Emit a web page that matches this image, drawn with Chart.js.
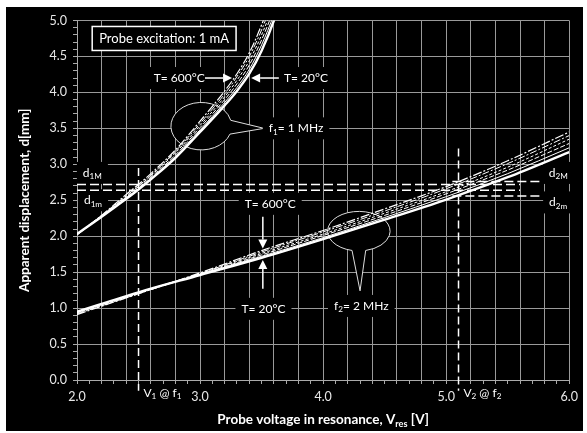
<!DOCTYPE html>
<html>
<head>
<meta charset="utf-8">
<script src="https://cdn.jsdelivr.net/npm/chart.js@4.4.1/dist/chart.umd.min.js"></script>
<style>
  html, body { margin: 0; padding: 0; background: #fff; }
  #frame { position: absolute; left: 6px; top: 7px; width: 577px; height: 424px; background: #000; }
  canvas { display: block; }
</style>
</head>
<body>
<div id="frame"><canvas id="chart" width="577" height="424"></canvas></div>
<script>
// probe voltage points (V) and apparent displacement (mm), f1 = 1 MHz
var vF1 = [2.0, 2.2, 2.4, 2.5, 2.6, 2.8, 3.0, 3.2, 3.3, 3.4, 3.5, 3.6, 3.7];
var d1T20  = [2.03, 2.27, 2.52, 2.65, 2.79, 3.09, 3.45, 3.82, 4.02, 4.26, 4.58, 5.00, 5.55];
var d1T100 = [2.03, 2.27, 2.53, 2.66, 2.80, 3.11, 3.48, 3.86, 4.07, 4.32, 4.66, 5.09, 5.65];
var d1T200 = [2.03, 2.28, 2.54, 2.67, 2.82, 3.13, 3.51, 3.90, 4.12, 4.38, 4.73, 5.17, 5.75];
var d1T300 = [2.02, 2.28, 2.55, 2.69, 2.84, 3.16, 3.54, 3.94, 4.17, 4.44, 4.80, 5.25, 5.85];
var d1T450 = [2.02, 2.29, 2.56, 2.70, 2.85, 3.18, 3.57, 3.98, 4.22, 4.50, 4.87, 5.33, 5.95];
var d1T600 = [2.02, 2.29, 2.58, 2.72, 2.87, 3.20, 3.60, 4.02, 4.26, 4.55, 4.94, 5.41, 6.05];

// f2 = 2 MHz
var vF2 = [2.0, 2.5, 3.0, 3.5, 4.0, 4.5, 5.0, 5.5, 6.0];
var d2T20  = [0.95, 1.22, 1.46, 1.70, 1.96, 2.23, 2.51, 2.82, 3.17];
var d2T100 = [0.94, 1.22, 1.47, 1.72, 1.98, 2.26, 2.55, 2.87, 3.23];
var d2T200 = [0.94, 1.21, 1.47, 1.74, 2.01, 2.29, 2.59, 2.92, 3.29];
var d2T300 = [0.93, 1.21, 1.48, 1.76, 2.03, 2.32, 2.62, 2.96, 3.35];
var d2T450 = [0.92, 1.20, 1.48, 1.78, 2.06, 2.35, 2.66, 3.01, 3.40];
var d2T600 = [0.91, 1.20, 1.49, 1.80, 2.08, 2.38, 2.69, 3.05, 3.45];

var temps = ['20°C', '100°C', '200°C', '300°C', '450°C', '600°C'];

// d1M, d1m, d2M, d2m levels and their extent
var hLevels = [2.72, 2.64, 2.76, 2.56];
var hFrom = [2.0, 2.0, 5.05, 5.05];
var hTo = [5.6, 5.6, 5.78, 5.78];
// V1 @ f1, V2 @ f2
var vAt = [2.5, 5.1];
var vTop = [2.95, 3.22];
var vBottom = -0.15;

var FONT = 'Lato, "Open Sans", sans-serif';
var lineStyles = [
  {w: 2.4, dash: []},
  {w: 1, dash: []},
  {w: 1, dash: [5, 2]},
  {w: 1, dash: [3, 2]},
  {w: 1, dash: [7, 2, 2, 2]},
  {w: 1.2, dash: [9, 2, 2, 2]}
];

function pairs(xs, ys) {
  var out = [];
  for (var i = 0; i < xs.length; i++) out.push({x: xs[i], y: ys[i]});
  return out;
}

var datasets = [];
[d1T20, d1T100, d1T200, d1T300, d1T450, d1T600].forEach(function(arr, i) {
  datasets.push({label: 'f1 T=' + temps[i], data: pairs(vF1, arr),
    borderColor: '#fff', borderWidth: lineStyles[i].w, borderDash: lineStyles[i].dash,
    pointRadius: 0, cubicInterpolationMode: 'monotone', fill: false});
});
[d2T20, d2T100, d2T200, d2T300, d2T450, d2T600].forEach(function(arr, i) {
  datasets.push({label: 'f2 T=' + temps[i], data: pairs(vF2, arr),
    borderColor: '#fff', borderWidth: lineStyles[i].w, borderDash: lineStyles[i].dash,
    pointRadius: 0, cubicInterpolationMode: 'monotone', fill: false});
});
for (var i = 0; i < hLevels.length; i++) {
  datasets.push({label: 'level ' + i, data: [{x: hFrom[i], y: hLevels[i]}, {x: hTo[i], y: hLevels[i]}],
    borderColor: '#fff', borderWidth: 1.5, borderDash: [9, 4], pointRadius: 0});
}
for (var j = 0; j < vAt.length; j++) {
  datasets.push({label: 'V' + (j + 1), data: [{x: vAt[j], y: vTop[j]}, {x: vAt[j], y: vBottom}],
    borderColor: '#fff', borderWidth: 1.5, borderDash: [8, 4], pointRadius: 0,
    clip: {left: 0, top: 0, right: 0, bottom: 14}});
}

// annotation positions in data units
var callouts = [
  {cx: 3.01, cy: 3.53, rx: 0.247, ry: 0.33, tipX: 3.52, tipY: 3.50, a0: 0.34, a1: 2 * Math.PI - 0.25},
  {cx: 4.29, cy: 2.07, rx: 0.254, ry: 0.275, tipX: 4.30, tipY: 1.24, a0: 1.79, a1: 2 * Math.PI + 1.35}
];
var labels = [
  {parts: [['T= 600°C']], x: 2.83, y: 4.20},
  {parts: [['T= 20°C']], x: 3.86, y: 4.20},
  {parts: [['f'], ['1', 1], ['= 1 MHz']], x: 3.78, y: 3.50},
  {parts: [['T= 600°C']], x: 3.57, y: 2.45},
  {parts: [['T= 20°C']], x: 3.515, y: 0.99},
  {parts: [['f'], ['2', 1], ['= 2 MHz']], x: 4.31, y: 1.03},
  {parts: [['d'], ['1M', 1]], x: 2.125, y: 2.88},
  {parts: [['d'], ['1m', 1]], x: 2.13, y: 2.50},
  {parts: [['d'], ['2M', 1]], x: 5.91, y: 2.88},
  {parts: [['d'], ['2m', 1]], x: 5.91, y: 2.47}
];
var arrows = [
  [3.04, 4.2, 3.26, 4.2],
  [3.64, 4.2, 3.415, 4.2],
  [3.51, 2.27, 3.51, 1.83],
  [3.51, 1.27, 3.51, 1.67]
];

function richText(ctx, parts, x, y, size, weight, align, bg) {
  var w = 0;
  parts.forEach(function(p) {
    ctx.font = weight + ' ' + (p[1] ? size * 0.68 : size) + 'px ' + FONT;
    w += ctx.measureText(p[0]).width;
  });
  var x0 = align === 'center' ? x - w / 2 : x;
  if (bg) {
    ctx.fillStyle = '#000';
    ctx.fillRect(x0 - 6, y - 11, w + 12, 22);
  }
  ctx.fillStyle = '#fff';
  ctx.textAlign = 'left';
  ctx.textBaseline = 'middle';
  parts.forEach(function(p) {
    var s = p[1] ? size * 0.68 : size;
    ctx.font = weight + ' ' + s + 'px ' + FONT;
    ctx.fillText(p[0], x0, p[1] ? y + size * 0.32 : y);
    x0 += ctx.measureText(p[0]).width;
  });
}

function arrow(ctx, x1, y1, x2, y2) {
  var a = Math.atan2(y2 - y1, x2 - x1), L = 9, W = 4.5;
  var bx = x2 - L * Math.cos(a), by = y2 - L * Math.sin(a);
  ctx.strokeStyle = '#fff';
  ctx.lineWidth = 1.5;
  ctx.beginPath(); ctx.moveTo(x1, y1); ctx.lineTo(bx, by); ctx.stroke();
  ctx.fillStyle = '#fff';
  ctx.beginPath();
  ctx.moveTo(x2, y2);
  ctx.lineTo(bx + W * Math.sin(a), by - W * Math.cos(a));
  ctx.lineTo(bx - W * Math.sin(a), by + W * Math.cos(a));
  ctx.closePath(); ctx.fill();
}

var annotate = {
  id: 'annotate',
  beforeDatasetsDraw: function(chart) {
    var ctx = chart.ctx, xs = chart.scales.x, ys = chart.scales.y;
    ctx.save();
    // probe excitation box
    ctx.font = '13px ' + FONT;
    var t = 'Probe excitation: 1 mA';
    var tw = ctx.measureText(t).width;
    var bx = xs.getPixelForValue(2.708), by = ys.getPixelForValue(4.75);
    ctx.fillStyle = '#000';
    ctx.fillRect(bx - tw / 2 - 7, by - 12, tw + 14, 24);
    ctx.strokeStyle = '#fff';
    ctx.lineWidth = 1.5;
    ctx.strokeRect(bx - tw / 2 - 7, by - 12, tw + 14, 24);
    richText(ctx, [[t]], bx, by, 13, 'normal', 'center', false);

    callouts.forEach(function(c) {
      var cx = xs.getPixelForValue(c.cx), cy = ys.getPixelForValue(c.cy);
      var rx = xs.getPixelForValue(c.cx + c.rx) - cx, ry = cy - ys.getPixelForValue(c.cy + c.ry);
      ctx.beginPath();
      ctx.ellipse(cx, cy, rx, ry, 0, c.a0, c.a1);
      ctx.lineTo(xs.getPixelForValue(c.tipX), ys.getPixelForValue(c.tipY));
      ctx.closePath();
      ctx.fillStyle = '#000';
      ctx.fill();
      ctx.strokeStyle = '#ddd';
      ctx.lineWidth = 1;
      ctx.stroke();
    });
    labels.forEach(function(l) {
      richText(ctx, l.parts, xs.getPixelForValue(l.x), ys.getPixelForValue(l.y), 12, 'normal', 'center', true);
    });
    ctx.restore();
  },
  afterDatasetsDraw: function(chart) {
    var ctx = chart.ctx, xs = chart.scales.x, ys = chart.scales.y;
    ctx.save();
    arrows.forEach(function(a) {
      arrow(ctx, xs.getPixelForValue(a[0]), ys.getPixelForValue(a[1]),
        xs.getPixelForValue(a[2]), ys.getPixelForValue(a[3]));
    });
    ctx.restore();
  },
  afterDraw: function(chart) {
    var ctx = chart.ctx, xs = chart.scales.x, ys = chart.scales.y;
    ctx.save();
    richText(ctx, [['V'], ['1', 1], [' @ f'], ['1', 1]], xs.getPixelForValue(2.54), ys.getPixelForValue(-0.18), 12, 'normal', 'left', false);
    richText(ctx, [['V'], ['2', 1], [' @ f'], ['2', 1]], xs.getPixelForValue(5.14), ys.getPixelForValue(-0.18), 12, 'normal', 'left', false);
    var ca = chart.chartArea;
    richText(ctx, [['Probe voltage in resonance, V'], ['res', 1], [' [V]']], (ca.left + ca.right) / 2, chart.height - 11, 13.5, 'bold', 'center', false);
    ctx.restore();
  }
};

function isMultiple(v, step) {
  var r = v / step;
  return Math.abs(r - Math.round(r)) < 1e-6;
}

var chart = new Chart(document.getElementById('chart'), {
  type: 'line',
  data: {datasets: datasets},
  plugins: [annotate],
  options: {
    responsive: false,
    animation: false,
    layout: {padding: {top: 10, right: 3, left: 0, bottom: 0}},
    plugins: {legend: {display: false}, tooltip: {enabled: false}},
    scales: {
      x: {
        type: 'linear', min: 2, max: 6,
        ticks: {
          stepSize: 0.1, autoSkip: false, maxRotation: 0, color: '#e8e8e8', padding: 5,
          font: {family: FONT, size: 12.5},
          callback: function(v) { return isMultiple(v, 1) ? v.toFixed(1) : ''; }
        },
        grid: {
          color: function(c) { return c.tick && isMultiple(c.tick.value, 0.2) ? '#9a9a9a' : 'rgba(0,0,0,0)'; },
          tickColor: '#aaa', tickLength: 4, lineWidth: 1
        },
        border: {color: '#aaa'},
        afterFit: function(s) { s.height = 51; }
      },
      y: {
        min: 0, max: 5,
        ticks: {
          stepSize: 0.1, autoSkip: false, color: '#e8e8e8', padding: 6,
          font: {family: FONT, size: 12.5},
          callback: function(v) { return isMultiple(v, 0.5) ? v.toFixed(1) : ''; }
        },
        grid: {
          color: function(c) { return c.tick && isMultiple(c.tick.value, 0.5) ? '#9a9a9a' : 'rgba(0,0,0,0)'; },
          tickColor: '#aaa', tickLength: 4, lineWidth: 1
        },
        border: {color: '#aaa'},
        title: {display: true, text: 'Apparent displacement, d[mm]', color: '#fff',
          font: {family: FONT, size: 13.5, weight: 'bold'}, padding: {top: 11, bottom: 0}},
        afterFit: function(s) { s.width = 71; }
      }
    }
  }
});
</script>
</body>
</html>
